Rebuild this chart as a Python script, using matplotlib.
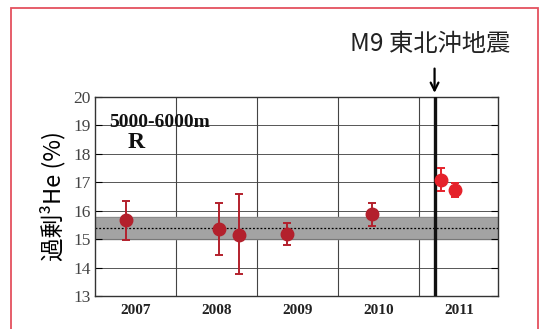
import matplotlib.pyplot as plt
import matplotlib.patches as patches

# sample dates (decimal year) and excess 3He (%)
years_a = [2007.38, 2008.53, 2008.78, 2009.37, 2010.42]
vals_a = [15.66, 15.37, 15.16, 15.17, 15.87]
err_lo_a = [0.68, 0.92, 1.38, 0.37, 0.40]
err_hi_a = [0.69, 0.91, 1.44, 0.39, 0.39]

years_b = [2011.27, 2011.44]
vals_b = [17.08, 16.74]
err_lo_b = [0.39, 0.24]
err_hi_b = [0.41, 0.24]

band_lo, band_hi, band_mid = 15.0, 15.78, 15.4
quake = 2011.19
year_labels = ['2007', '2008', '2009', '2010', '2011']

plt.rcParams['font.family'] = ['Noto Sans CJK JP', 'DejaVu Sans']

fig = plt.figure(figsize=(5.47, 3.29), dpi=100)
ax = fig.add_axes([0.1737, 0.1003, 0.7363, 0.6047])

ax.axhspan(band_lo, band_hi, color='#a3a3a3', zorder=1)
ax.axhline(band_lo, color='#777777', lw=0.8, zorder=1)
ax.axhline(band_hi, color='#888888', lw=0.6, zorder=1)
ax.axhline(band_mid, color='black', lw=0.9, ls=(0, (1.5, 1.5)), zorder=2)

for y in range(14, 20):
    ax.axhline(y, color='#555555', lw=0.7, zorder=0)
for x in range(2008, 2012):
    ax.axvline(x, color='#444444', lw=0.8, zorder=0)

ax.axvline(quake, color='#111111', lw=2.4, zorder=3)

ax.errorbar(years_a, vals_a, yerr=[err_lo_a, err_hi_a], fmt='o', color='#b3202c',
            ms=9, elinewidth=1.4, capsize=3, capthick=1.4, zorder=4)
ax.errorbar(years_b, vals_b, yerr=[err_lo_b, err_hi_b], fmt='o', color='#e5222b',
            ms=9, elinewidth=1.4, capsize=3, capthick=1.4, zorder=4)

ax.set_xlim(2007, 2011.97)
ax.set_ylim(13, 20)
ax.set_yticks(range(13, 21))
ax.set_yticklabels([str(v) for v in range(13, 21)], family='Liberation Serif',
                   fontsize=12.5, color='#444444')
ax.tick_params(axis='y', direction='in', length=5, right=True, width=0.8, pad=3)
ax.set_xticks([y + 0.5 for y in range(2007, 2012)])
ax.set_xticklabels(year_labels, family='Liberation Serif', fontweight='bold',
                   fontsize=11, color='#222222')
ax.tick_params(axis='x', length=0, pad=6)
for s in ax.spines.values():
    s.set_linewidth(1.0)
    s.set_color('#333333')

ax.set_ylabel('過剰³He (%)', fontsize=17, labelpad=6)

ax.text(0.035, 0.87, '5000-6000m', transform=ax.transAxes, family='Liberation Serif',
        fontweight='bold', fontsize=14, va='center', color='#111111')
ax.text(0.08, 0.77, 'R', transform=ax.transAxes, family='Liberation Serif',
        fontweight='bold', fontsize=17, va='center', color='#111111')

ax.annotate('', xy=(quake, 20.05), xytext=(quake, 21.1), annotation_clip=False,
            arrowprops=dict(arrowstyle='->', color='black', lw=1.6, mutation_scale=14))
ax.text(quake - 0.05, 21.85, 'M9 東北沖地震', ha='center', va='center', fontsize=17.5,
        color='#222222', clip_on=False)

fig.add_artist(patches.Rectangle((0.020, -0.05), 0.9635, 1.0257, transform=fig.transFigure,
                                 fill=False, edgecolor='#e4505e', lw=1.3, clip_on=False))

fig.savefig('out.png', dpi=100)
